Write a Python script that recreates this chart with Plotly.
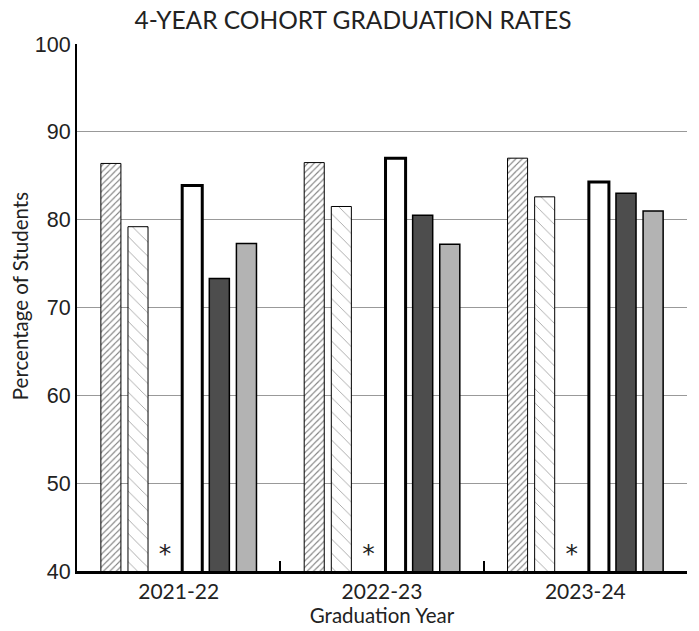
import plotly.graph_objects as go

YEARS = ["2021-22", "2022-23", "2023-24"]

# six reporting groups per year; the third one is suppressed ("*") every year
GROUP_A = [86.4, 86.5, 87.0]
GROUP_B = [79.2, 81.5, 82.6]
GROUP_C = [None, None, None]
GROUP_D = [83.9, 87.0, 84.3]
GROUP_E = [73.3, 80.5, 83.0]
GROUP_F = [77.3, 77.2, 81.0]
SUPPRESSED = ["*", "*", "*"]

Y_MIN, Y_MAX = 40, 100

fig = go.Figure()

fig.add_trace(go.Bar(
    x=YEARS, y=GROUP_A, name="Group A",
    marker=dict(color="white", line=dict(color="black", width=1),
                pattern=dict(shape="/", fgcolor="black", bgcolor="white", size=4.5, solidity=0.25)),
))
fig.add_trace(go.Bar(
    x=YEARS, y=GROUP_B, name="Group B",
    marker=dict(color="white", line=dict(color="black", width=1),
                pattern=dict(shape="\\", fgcolor="#333", bgcolor="white", size=10, solidity=0.08)),
))
# suppressed group: zero-height bars at the axis floor carrying the "*" marker
fig.add_trace(go.Bar(
    x=YEARS, y=[0 if v is None else v for v in GROUP_C], base=Y_MIN, name="Group C",
    marker=dict(color="rgba(0,0,0,0)", line=dict(width=0)),
    text=SUPPRESSED, textposition="outside", cliponaxis=False,
    textfont=dict(family="DejaVu Sans", size=25, color="#222"),
    outsidetextfont=dict(family="DejaVu Sans", size=25, color="#222"),
))
fig.add_trace(go.Bar(
    x=YEARS, y=GROUP_D, name="Group D",
    marker=dict(color="white", line=dict(color="black", width=3)),
))
fig.add_trace(go.Bar(
    x=YEARS, y=GROUP_E, name="Group E",
    marker=dict(color="#4d4d4d", line=dict(color="black", width=1.5)),
))
fig.add_trace(go.Bar(
    x=YEARS, y=GROUP_F, name="Group F",
    marker=dict(color="#b3b3b3", line=dict(color="black", width=1.5)),
))

fig.update_layout(
    width=699, height=631,
    margin=dict(l=77, r=12, t=44, b=60, autoexpand=False),
    paper_bgcolor="white", plot_bgcolor="white",
    barmode="group", bargap=0.2, bargroupgap=0.26,
    showlegend=False,
    title=dict(text="4-YEAR COHORT GRADUATION RATES", x=0.505, xanchor="center", y=0.968, yanchor="middle",
               font=dict(family="Lato", size=24.5, color="#222"), automargin=False),
    # y-axis title sits a bit above the plot's middle in the reference
    annotations=[dict(
        text="Percentage of Students", textangle=-90, showarrow=False,
        xref="paper", yref="paper", x=-0.093, y=0.522, xanchor="center", yanchor="middle",
        font=dict(family="Lato", size=20.5, color="#222"),
    )],
)
fig.update_xaxes(
    title=dict(text="Graduation Year", font=dict(family="Lato", size=20.5, color="#222"), standoff=0),
    tickfont=dict(family="Lato", size=21, color="#222"),
    showline=True, linecolor="black", linewidth=3,
    ticks="inside", tickson="boundaries", ticklen=10, tickwidth=2, tickcolor="black",
    showgrid=False, automargin=False,
)
fig.update_yaxes(
    tickfont=dict(family="Liberation Sans", size=21.5, color="#222"),
    range=[Y_MIN, Y_MAX], dtick=10,
    showline=True, linecolor="black", linewidth=2,
    showgrid=True, gridcolor="#999", gridwidth=1,
    zeroline=False, ticks="", automargin=False,
)

# drop the browser's default body margin so the figure sits at the page origin
fig.write_html("out.html", config={"displayModeBar": False},
               post_script="document.body.style.margin='0';")
